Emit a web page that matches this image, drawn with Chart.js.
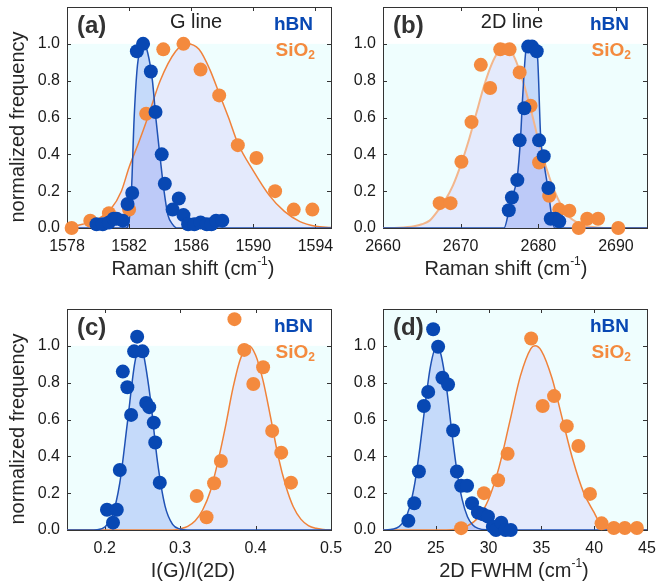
<!DOCTYPE html>
<html>
<head>
<meta charset="utf-8">
<title>Raman statistics hBN / SiO2</title>
<script src="https://cdn.jsdelivr.net/npm/chart.js@4.4.1/dist/chart.umd.min.js"></script>
<style>
  html, body { margin: 0; padding: 0; background: #fff; overflow: hidden; }
  #page { position: relative; width: 656px; height: 586px; overflow: hidden; }
  .panel { position: absolute; width: 353px; height: 293px; }
</style>
</head>
<body>
<div id="page">
  <div class="panel" style="left:0;top:0"><canvas id="panelA"></canvas></div>
  <div class="panel" style="left:316px;top:0"><canvas id="panelB"></canvas></div>
  <div class="panel" style="left:0;top:302px"><canvas id="panelC"></canvas></div>
  <div class="panel" style="left:316px;top:302px"><canvas id="panelD"></canvas></div>
</div>
<script>
// (a) G line position
const gShiftSio2 = [1578.3, 1579.5, 1580.7, 1582.0, 1583.1, 1584.2, 1585.5, 1586.6, 1587.8, 1589.0, 1590.2, 1591.4, 1592.6, 1593.8];
const gFreqSio2  = [0.0, 0.04, 0.08, 0.10, 0.62, 0.97, 1.0, 0.86, 0.72, 0.45, 0.38, 0.20, 0.10, 0.10];
const gShiftHbn  = [1579.9, 1580.3, 1580.7, 1581.0, 1581.2, 1581.6, 1581.9, 1582.2, 1582.5, 1582.9, 1583.4, 1583.7, 1584.1, 1584.3, 1584.8, 1585.2, 1585.5, 1585.8, 1586.2, 1586.6, 1587.0, 1587.3, 1587.6, 1588.0];
const gFreqHbn   = [0.02, 0.02, 0.03, 0.05, 0.05, 0.04, 0.13, 0.19, 0.96, 1.0, 0.85, 0.63, 0.40, 0.24, 0.10, 0.16, 0.07, 0.02, 0.02, 0.03, 0.02, 0.02, 0.04, 0.04];
const gFitSio2X  = [1578, 1579, 1580, 1580.8, 1581.5, 1582, 1582.6, 1583.2, 1584, 1585, 1585.7, 1586.5, 1587.2, 1587.8, 1588.4, 1589, 1590, 1591, 1592, 1593, 1594, 1595];
const gFitSio2Y  = [0.005, 0.02, 0.05, 0.10, 0.2, 0.33, 0.46, 0.6, 0.8, 0.96, 1.0, 0.97, 0.86, 0.73, 0.6, 0.46, 0.31, 0.18, 0.09, 0.035, 0.01, 0.003];
const gFitHbnX   = [1578, 1581.8, 1582.0, 1582.15, 1582.32, 1582.5, 1582.7, 1582.95, 1583.2, 1583.5, 1583.73, 1584.0, 1584.25, 1584.5, 1584.8, 1585.1, 1595];
const gFitHbnY   = [0, 0, 0.04, 0.2, 0.59, 0.85, 0.97, 1.0, 0.95, 0.8, 0.59, 0.38, 0.2, 0.07, 0.02, 0, 0];

// (b) 2D line position
const dShiftSio2 = [2667.3, 2668.7, 2670.1, 2671.4, 2672.6, 2673.8, 2675.1, 2676.3, 2677.6, 2679.0, 2680.1, 2681.4, 2682.7, 2684.0, 2685.2, 2686.3, 2687.7, 2690.3];
const dFreqSio2  = [0.135, 0.135, 0.36, 0.575, 0.886, 0.76, 0.97, 0.97, 0.845, 0.664, 0.356, 0.175, 0.10, 0.094, 0.0, 0.05, 0.05, 0.0];
const dShiftHbn  = [2676.2, 2676.6, 2677.3, 2677.6, 2678.2, 2678.7, 2679.2, 2679.8, 2680.1, 2680.7, 2681.3, 2681.6, 2682.2, 2682.7];
const dFreqHbn   = [0.096, 0.166, 0.26, 0.476, 0.65, 0.985, 0.985, 0.96, 0.476, 0.39, 0.217, 0.05, 0.05, 0.036];
const dFitSio2X  = [2660, 2662, 2664, 2665, 2666, 2667, 2668, 2669, 2670, 2671, 2672, 2673, 2674, 2675, 2675.5, 2676, 2677, 2678, 2679, 2680, 2681, 2682, 2683, 2684, 2685, 2686, 2688, 2690, 2694];
const dFitSio2Y  = [0, 0.002, 0.01, 0.02, 0.04, 0.09, 0.15, 0.23, 0.34, 0.47, 0.62, 0.77, 0.89, 0.97, 1.0, 0.99, 0.92, 0.80, 0.65, 0.48, 0.33, 0.21, 0.12, 0.06, 0.03, 0.012, 0.002, 0, 0];
const dFitHbnX   = [2660, 2675.6, 2676.2, 2676.6, 2677.3, 2677.7, 2678.0, 2678.4, 2678.9, 2679.5, 2679.9, 2680.3, 2680.7, 2681.3, 2681.7, 2682.1, 2694];
const dFitHbnY   = [0, 0, 0.09, 0.16, 0.28, 0.48, 0.72, 0.96, 1.0, 0.99, 0.93, 0.5, 0.36, 0.2, 0.07, 0, 0];

// (c) intensity ratio I(G)/I(2D)
const rRatioHbn  = [0.203, 0.211, 0.216, 0.22, 0.224, 0.23, 0.235, 0.239, 0.243, 0.25, 0.255, 0.259, 0.265, 0.267, 0.273];
const rFreqHbn   = [0.11, 0.04, 0.11, 0.326, 0.86, 0.775, 0.625, 0.97, 1.05, 0.97, 0.69, 0.667, 0.583, 0.475, 0.257];
const rRatioSio2 = [0.322, 0.335, 0.345, 0.354, 0.372, 0.385, 0.397, 0.41, 0.422, 0.434, 0.447];
const rFreqSio2  = [0.185, 0.069, 0.254, 0.375, 1.145, 0.978, 0.793, 0.884, 0.538, 0.42, 0.257];
const rFitHbnX   = [0.15, 0.18, 0.19, 0.20, 0.21, 0.22, 0.23, 0.24, 0.247, 0.25, 0.26, 0.27, 0.28, 0.29, 0.30, 0.31, 0.5];
const rFitHbnY   = [0, 0, 0.002, 0.016, 0.077, 0.256, 0.58, 0.91, 1.0, 0.98, 0.73, 0.37, 0.13, 0.031, 0.005, 0, 0];
const rFitSio2X  = [0.15, 0.29, 0.30, 0.31, 0.32, 0.33, 0.34, 0.35, 0.36, 0.37, 0.38, 0.391, 0.40, 0.41, 0.42, 0.43, 0.44, 0.45, 0.46, 0.47, 0.48, 0.49, 0.50];
const rFitSio2Y  = [0, 0, 0.007, 0.02, 0.05, 0.11, 0.21, 0.37, 0.56, 0.77, 0.93, 1.0, 0.95, 0.81, 0.61, 0.40, 0.24, 0.126, 0.059, 0.024, 0.009, 0.003, 0.001];

// (d) 2D FWHM
const wFwhmHbn   = [22.4, 22.96, 23.4, 23.87, 24.28, 24.75, 25.22, 25.63, 26.16, 26.64, 27.0, 27.4, 27.96, 28.43, 28.99, 29.47, 29.94, 30.4, 30.7, 31.2, 31.6, 32.1];
const wFreqHbn   = [0.05, 0.145, 0.318, 0.673, 0.75, 1.09, 0.995, 0.827, 0.79, 0.54, 0.318, 0.24, 0.24, 0.145, 0.095, 0.085, 0.073, 0.018, 0.0, 0.04, 0.0, 0.0];
const wFwhmSio2  = [27.4, 29.56, 30.9, 31.8, 34.03, 35.12, 36.2, 37.4, 38.5, 39.6, 40.7, 41.86, 42.9, 44.04];
const wFreqSio2  = [0.01, 0.2, 0.27, 0.414, 1.04, 0.673, 0.727, 0.564, 0.456, 0.196, 0.036, 0.011, 0.011, 0.011];
const wFitHbnX   = [20, 21, 22, 22.5, 23, 23.5, 24, 24.5, 25.1, 25.5, 26, 26.5, 27, 27.5, 28, 28.5, 29, 30, 31, 45];
const wFitHbnY   = [0, 0.005, 0.05, 0.12, 0.25, 0.45, 0.685, 0.89, 1.0, 0.95, 0.78, 0.54, 0.32, 0.165, 0.072, 0.027, 0.009, 0.001, 0, 0];
const wFitSio2X  = [20, 26, 27, 28, 29, 30, 31, 32, 33, 34, 34.4, 35, 36, 37, 38, 39, 40, 40.5, 41, 42, 43, 45];
const wFitSio2Y  = [0, 0, 0.006, 0.023, 0.067, 0.167, 0.343, 0.587, 0.834, 0.985, 1.0, 0.973, 0.825, 0.60, 0.377, 0.203, 0.094, 0.04, 0.012, 0.002, 0, 0];

// texts
const yTitle = 'normalized frequency';
const seriesNames = ['hBN', 'SiO', '2'];
const panelLetters = ['(a)', '(b)', '(c)', '(d)'];
const lineNames = ['G line', '2D line'];
const xTitles = [
  ['Raman shift (cm', '-1', ')'],
  ['Raman shift (cm', '-1', ')'],
  ['I(G)/I(2D)'],
  ['2D FWHM (cm', '-1', ')']
];

const FONT = '"Liberation Sans", Arial, Helvetica, sans-serif';
const BLUE = '#0848b3';
const ORANGE = '#f48a3e';
const CYAN = '#effefe';

function pts(xs, ys) {
  return xs.map((v, i) => ({ x: v, y: ys[i] }));
}

function dots(xs, ys, color, order) {
  return {
    data: pts(xs, ys), showLine: false, fill: false,
    backgroundColor: color, borderWidth: 0,
    pointRadius: 7, pointHoverRadius: 7,
    clip: false, order: order
  };
}

function fitCurve(xs, ys, line, area, width, order) {
  return {
    data: pts(xs, ys), borderColor: line, borderWidth: width,
    backgroundColor: area, fill: 'origin',
    pointRadius: 0, cubicInterpolationMode: 'monotone',
    order: order
  };
}

// text with alternating normal / superscript parts
function drawParts(ctx, parts, cx, cy, size, rotate) {
  ctx.save();
  ctx.translate(cx, cy);
  if (rotate) ctx.rotate(-Math.PI / 2);
  ctx.fillStyle = '#262626';
  ctx.textBaseline = 'middle';
  ctx.textAlign = 'left';
  const big = size + 'px ' + FONT;
  const small = Math.round(size * 0.62) + 'px ' + FONT;
  const widths = parts.map((p, i) => {
    ctx.font = i % 2 ? small : big;
    return ctx.measureText(p).width;
  });
  let x = -widths.reduce((s, w) => s + w, 0) / 2;
  parts.forEach((p, i) => {
    ctx.font = i % 2 ? small : big;
    ctx.fillText(p, x, i % 2 ? -size * 0.36 : 0);
    x += widths[i];
  });
  ctx.restore();
}

const panelDecor = {
  id: 'panelDecor',
  beforeDraw(chart, args, opts) {
    const { ctx, chartArea: a } = chart;
    const yTop = opts.fullCyan ? a.top : chart.scales.y.getPixelForValue(1);
    ctx.save();
    ctx.fillStyle = CYAN;
    ctx.fillRect(a.left, yTop, a.right - a.left, a.bottom - yTop);
    ctx.restore();
  },
  beforeDatasetsDraw(chart) {
    const { ctx, chartArea: a, scales } = chart;
    ctx.save();
    ctx.strokeStyle = '#333';
    ctx.lineWidth = 1;
    ctx.beginPath();
    scales.x.ticks.forEach(t => {
      const px = Math.round(scales.x.getPixelForValue(t.value)) + 0.5;
      if (px <= a.left + 1 || px >= a.right - 1) return;
      ctx.moveTo(px, a.bottom); ctx.lineTo(px, a.bottom - 4);
      ctx.moveTo(px, a.top); ctx.lineTo(px, a.top + 4);
    });
    scales.y.ticks.forEach(t => {
      const py = Math.round(scales.y.getPixelForValue(t.value)) + 0.5;
      if (py <= a.top + 1 || py >= a.bottom - 1) return;
      ctx.moveTo(a.left, py); ctx.lineTo(a.left + 4, py);
      ctx.moveTo(a.right, py); ctx.lineTo(a.right - 4, py);
    });
    ctx.stroke();
    ctx.strokeRect(Math.round(a.left) + 0.5, Math.round(a.top) + 0.5,
      Math.round(a.right - a.left), Math.round(a.bottom - a.top));
    ctx.restore();
  },
  afterDraw(chart, args, opts) {
    const { ctx, chartArea: a } = chart;
    ctx.save();
    // panel letter
    ctx.fillStyle = '#333';
    ctx.textBaseline = 'middle';
    ctx.textAlign = 'left';
    ctx.font = 'bold 24px ' + FONT;
    ctx.fillText(opts.letter, a.left + 10, a.top + 19);
    // line name
    if (opts.lineName) {
      ctx.textAlign = 'center';
      ctx.font = '20px ' + FONT;
      ctx.fillStyle = '#222';
      ctx.fillText(opts.lineName, a.left + 129, a.top + 15);
    }
    // series labels
    ctx.textAlign = 'right';
    ctx.font = 'bold 19px ' + FONT;
    ctx.fillStyle = BLUE;
    ctx.fillText(seriesNames[0], a.right - 18, a.top + 18);
    ctx.font = 'bold 12px ' + FONT;
    const subW = ctx.measureText(seriesNames[2]).width;
    ctx.fillStyle = ORANGE;
    ctx.fillText(seriesNames[2], a.right - 16, a.top + 49);
    ctx.font = 'bold 19px ' + FONT;
    ctx.fillText(seriesNames[1], a.right - 16 - subW, a.top + 44);
    ctx.restore();
    // axis titles
    drawParts(ctx, opts.xTitle, a.left + opts.xTitleDx, a.bottom + 41, 20, false);
    if (opts.yTitle) drawParts(ctx, [opts.yTitle], 18, a.top + 120, 20, true);
  }
};

function makePanel(id, cfg) {
  const tickFont = { family: FONT, size: 16 };
  return new Chart(document.getElementById(id), {
    type: 'line',
    data: { datasets: cfg.datasets },
    options: {
      responsive: true,
      maintainAspectRatio: false,
      animation: false,
      events: [],
      layout: { padding: { top: 7, right: 22, left: 0, bottom: 0 } },
      plugins: {
        legend: { display: false },
        tooltip: { enabled: false },
        filler: { drawTime: 'beforeDatasetsDraw' },
        panelDecor: cfg.decor
      },
      scales: {
        x: {
          type: 'linear', min: cfg.xMin, max: cfg.xMax,
          afterFit: s => { s.height = 65; s.paddingLeft = 0; s.paddingRight = 0; },
          grid: { display: false, drawTicks: false },
          border: { display: false },
          ticks: {
            stepSize: cfg.xStep, includeBounds: false, autoSkip: false, maxRotation: 0,
            padding: 9, font: tickFont, color: '#1a1a1a',
            callback: cfg.xLabel
          }
        },
        y: {
          type: 'linear', min: 0, max: 1.2,
          afterFit: s => { s.width = 67; s.paddingTop = 0; s.paddingBottom = 0; },
          grid: { display: false, drawTicks: false },
          border: { display: false },
          ticks: {
            stepSize: 0.2, autoSkip: false, padding: 7, font: tickFont, color: '#1a1a1a',
            callback: v => (v > 1.05 ? null : v.toFixed(1))
          }
        }
      }
    },
    plugins: [panelDecor]
  });
}

const hbnFill = 'rgba(50, 90, 235, 0.22)';
const sioFill = 'rgba(190, 160, 245, 0.21)';

makePanel('panelA', {
  xMin: 1578, xMax: 1595, xStep: 2,
  xLabel: v => (Math.abs((v - 1578) % 4) < 1e-6 ? String(v) : null),
  datasets: [
    dots(gShiftHbn, gFreqHbn, BLUE, 0),
    dots(gShiftSio2, gFreqSio2, ORANGE, 1),
    fitCurve(gFitHbnX, gFitHbnY, '#1f52b5', hbnFill, 1.5, 2),
    fitCurve(gFitSio2X, gFitSio2Y, '#f0823a', sioFill, 1.5, 3)
  ],
  decor: { letter: panelLetters[0], lineName: lineNames[0], xTitle: xTitles[0], xTitleDx: 126, yTitle: yTitle }
});

makePanel('panelB', {
  xMin: 2660, xMax: 2694, xStep: 5,
  xLabel: v => (Math.abs((v - 2660) % 10) < 1e-6 ? String(v) : null),
  datasets: [
    dots(dShiftHbn, dFreqHbn, BLUE, 0),
    dots(dShiftSio2, dFreqSio2, ORANGE, 1),
    fitCurve(dFitHbnX, dFitHbnY, '#1f52b5', hbnFill, 1.5, 2),
    fitCurve(dFitSio2X, dFitSio2Y, '#f3b68c', sioFill, 2, 3)
  ],
  decor: { letter: panelLetters[1], lineName: lineNames[1], xTitle: xTitles[1], xTitleDx: 123 }
});

makePanel('panelC', {
  xMin: 0.15, xMax: 0.5, xStep: 0.05,
  xLabel: v => (Math.abs(v * 10 - Math.round(v * 10)) < 1e-6 ? v.toFixed(1) : null),
  datasets: [
    dots(rRatioHbn, rFreqHbn, BLUE, 0),
    dots(rRatioSio2, rFreqSio2, ORANGE, 1),
    fitCurve(rFitHbnX, rFitHbnY, '#1f52b5', hbnFill, 1.5, 2),
    fitCurve(rFitSio2X, rFitSio2Y, '#f0823a', sioFill, 1.5, 3)
  ],
  decor: { letter: panelLetters[2], xTitle: xTitles[2], xTitleDx: 126, yTitle: yTitle }
});

makePanel('panelD', {
  xMin: 20, xMax: 45, xStep: 5,
  xLabel: v => String(v),
  datasets: [
    dots(wFwhmHbn, wFreqHbn, BLUE, 0),
    dots(wFwhmSio2, wFreqSio2, ORANGE, 1),
    fitCurve(wFitHbnX, wFitHbnY, '#1f52b5', hbnFill, 1.5, 2),
    fitCurve(wFitSio2X, wFitSio2Y, '#f0823a', sioFill, 1.5, 3)
  ],
  decor: { letter: panelLetters[3], xTitle: xTitles[3], xTitleDx: 131, fullCyan: true }
});
</script>
</body>
</html>
